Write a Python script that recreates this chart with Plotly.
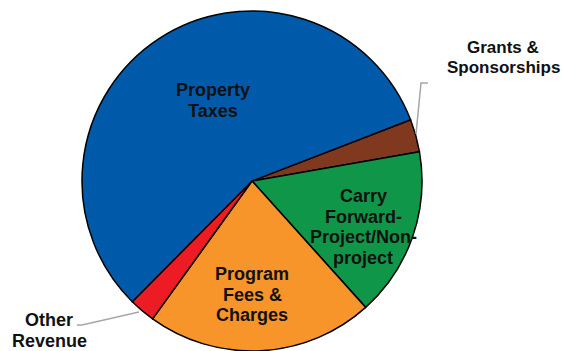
import plotly.graph_objects as go

# Revenue sources, listed clockwise from the slice just above 3 o'clock
categories = ["Grants & Sponsorships", "Carry Forward-Project/Non-project",
              "Program Fees & Charges", "Other Revenue", "Property Taxes"]
shares = [3.1, 16.1, 21.6, 2.5, 56.7]
colors = ["#80391E", "#109648", "#F7942A", "#ED1C24", "#005AAA"]

# Label lines for each slice: (lines, centre x px, first baseline y px, size)
label_lines = [
    (["Grants &", "Sponsorships"], 503, 53, 17),
    (["Carry", "Forward-", "Project/Non-", "project"], 363, 202, 18),
    (["Program", "Fees &", "Charges"], 252, 280, 18),
    (["Other", "Revenue"], 49, 326, 18),
    (["Property", "Taxes"], 213, 96, 18),
]

W, H = 562, 351
cx, cy, r = 252, 181, 170

fig = go.Figure(go.Pie(
    labels=categories,
    values=shares,
    sort=False,
    direction="clockwise",
    rotation=68.9,
    marker=dict(colors=colors, line=dict(color="#000000", width=1.5)),
    textinfo="none",
    hoverinfo="label+percent",
    showlegend=False,
    domain=dict(x=[(cx - r) / W, (cx + r) / W], y=[(H - cy - r) / H, (H - cy + r) / H]),
))

annotations = []
for lines, x, base, size in label_lines:
    for i, line in enumerate(lines):
        y = base + i * 20.5 - size * 0.33
        annotations.append(dict(
            text=line, x=x / W, y=1 - y / H, xref="paper", yref="paper",
            xanchor="center", yanchor="middle", showarrow=False,
            font=dict(family="Liberation Sans, Arial, sans-serif", size=size,
                      color="#111111", weight="bold"),
        ))

# Leader lines for the two small slices
def px_path(points):
    return "M " + " L ".join(f"{x / W},{1 - y / H}" for x, y in points)

shapes = [
    dict(type="path", xref="paper", yref="paper",
         path=px_path([(416, 134), (421, 83), (428, 83)]),
         line=dict(color="#A6A6A6", width=1.5)),
    dict(type="path", xref="paper", yref="paper",
         path=px_path([(139, 312), (82, 325), (77, 325)]),
         line=dict(color="#A6A6A6", width=1.5)),
]

fig.update_layout(
    width=W, height=H,
    margin=dict(l=0, r=0, t=0, b=0),
    paper_bgcolor="white", plot_bgcolor="white",
    annotations=annotations, shapes=shapes,
)

fig.write_html("out.html")
